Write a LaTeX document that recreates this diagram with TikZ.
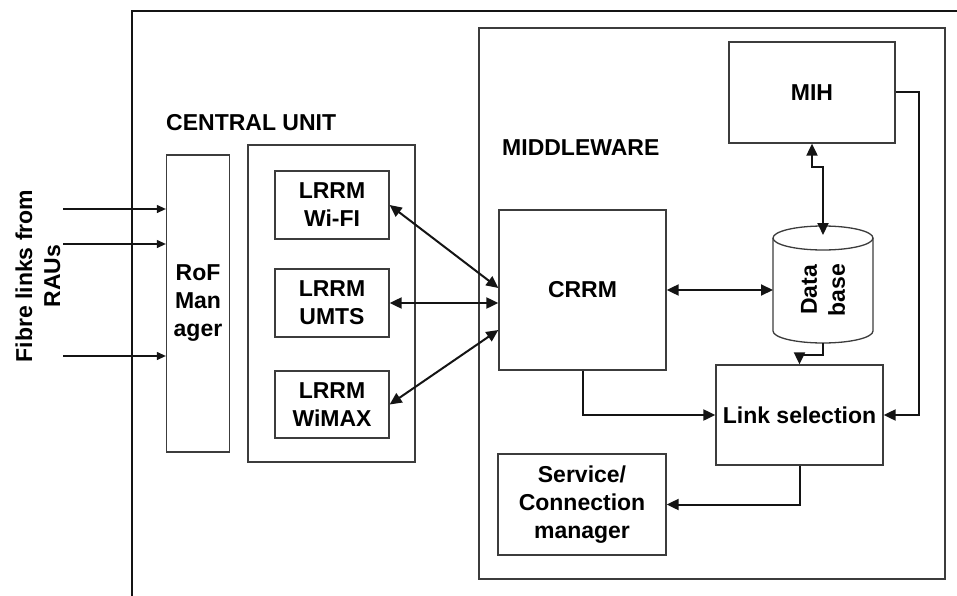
\documentclass[tikz,border=0pt]{standalone}
\usepackage{fontspec}
\setmainfont{Liberation Sans}
\usetikzlibrary{arrows.meta, positioning, calc}
\definecolor{boxline}{RGB}{60,60,60}
\definecolor{inkdark}{RGB}{20,20,20}
\newcommand{\lbl}{\fontsize{23}{28}\selectfont\bfseries}
\tikzset{
  unitbox/.style={rectangle, draw=boxline, line width=1.3pt, inner sep=0pt},
  block/.style={rectangle, draw=boxline, fill=white, line width=1.3pt,
    align=center, font=\lbl, inner sep=0pt},
  title/.style={font=\lbl, inner sep=0pt, anchor=west},
  arrow/.style={-{Triangle[length=12pt,width=11pt]}, line width=2pt, color=inkdark},
  duoarrow/.style={{Triangle[length=12pt,width=11pt]}-{Triangle[length=12pt,width=11pt]},
    line width=2pt, color=inkdark},
  fibrearrow/.style={-{Triangle[length=9pt,width=8pt]}, line width=1.2pt, color=inkdark}
}

\begin{document}
\begin{tikzpicture}[x=1pt, y=-1pt]
  \useasboundingbox (0,0) rectangle (957,596);
  % Outer frame
  \draw[line width=2pt, inkdark] (132,596) -- (132,11) -- (957,11);
  % Central unit and middleware frames
  \node[unitbox, minimum width=167pt, minimum height=317pt] (cu) at (331.5,303.5) {};
  \node[unitbox, minimum width=466pt, minimum height=551pt] (mw) at (712,303.5) {};
  \node[title] (cutitle) at (166,123) {CENTRAL UNIT};
  \node[title] (mwtitle) at (502,148) {MIDDLEWARE};
  % Fibre links
  \node[font=\lbl, align=center, rotate=90, inner sep=0pt] (fibre) at (38,276)
    {Fibre links from\\RAUs};
  \node[block, minimum width=63pt, minimum height=297pt] (rof) at (198,303.5)
    {RoF\\Man\\ager};
  \coordinate (f1) at (63,209);
  \coordinate (f2) at (63,244);
  \coordinate (f3) at (63,356);
  \foreach \f in {f1,f2,f3}
    \draw[fibrearrow] (\f) -- (\f -| rof.west);
  % LRRM blocks
  \node[block, minimum width=114pt, minimum height=68pt] (wifi) at (332,205) {LRRM\\Wi-FI};
  \node[block, minimum width=114pt, minimum height=68pt] (umts) at (332,303) {LRRM\\UMTS};
  \node[block, minimum width=114pt, minimum height=67pt] (wimax) at (332,404.5) {LRRM\\WiMAX};
  % Middleware blocks
  \node[block, minimum width=166pt, minimum height=101pt] (mih) at (812,92.5) {MIH};
  \node[block, minimum width=167pt, minimum height=160pt] (crrm) at (582.5,290) {CRRM};
  \node[block, minimum width=167pt, minimum height=100pt] (link) at (799.5,415) {Link selection};
  \node[block, minimum width=168pt, minimum height=101pt] (svc) at (582,504.5)
    {Service/\\Connection\\manager};
  % Data base cylinder
  \draw[boxline, line width=1.3pt, fill=white]
    (773,238) -- (773,331) arc[start angle=180, end angle=360, x radius=50pt, y radius=12pt]
    -- (873,238);
  \draw[boxline, line width=1.3pt, fill=white] (823,238) ellipse[x radius=50pt, y radius=12pt];
  \node[font=\lbl, align=center, rotate=90, inner sep=0pt] (db) at (823,290) {Data\\base};
  \coordinate (dbtop) at (823,235);
  \coordinate (dbbot) at (823,343);
  \coordinate (dbleft) at (773,290);
  % Connectors
  \draw[duoarrow] (wifi.east) -- ([yshift=2pt]crrm.west);
  \draw[duoarrow] (umts.east) -- (umts.east -| crrm.west);
  \draw[duoarrow] (wimax.east) -- ([yshift=-40pt]crrm.west);
  \draw[duoarrow] (crrm.east) -- (dbleft);
  \draw[duoarrow] (mih.south) -- ++(0,23) -| (dbtop);
  \draw[arrow] (dbbot) -- ++(0,12) -| (link.north);
  \draw[arrow] (crrm.south) |- (link.west);
  \draw[arrow] (mih.east) -- ++(23,0) |- (link.east);
  \draw[arrow] (link.south) |- (svc.east);
\end{tikzpicture}
\end{document}
